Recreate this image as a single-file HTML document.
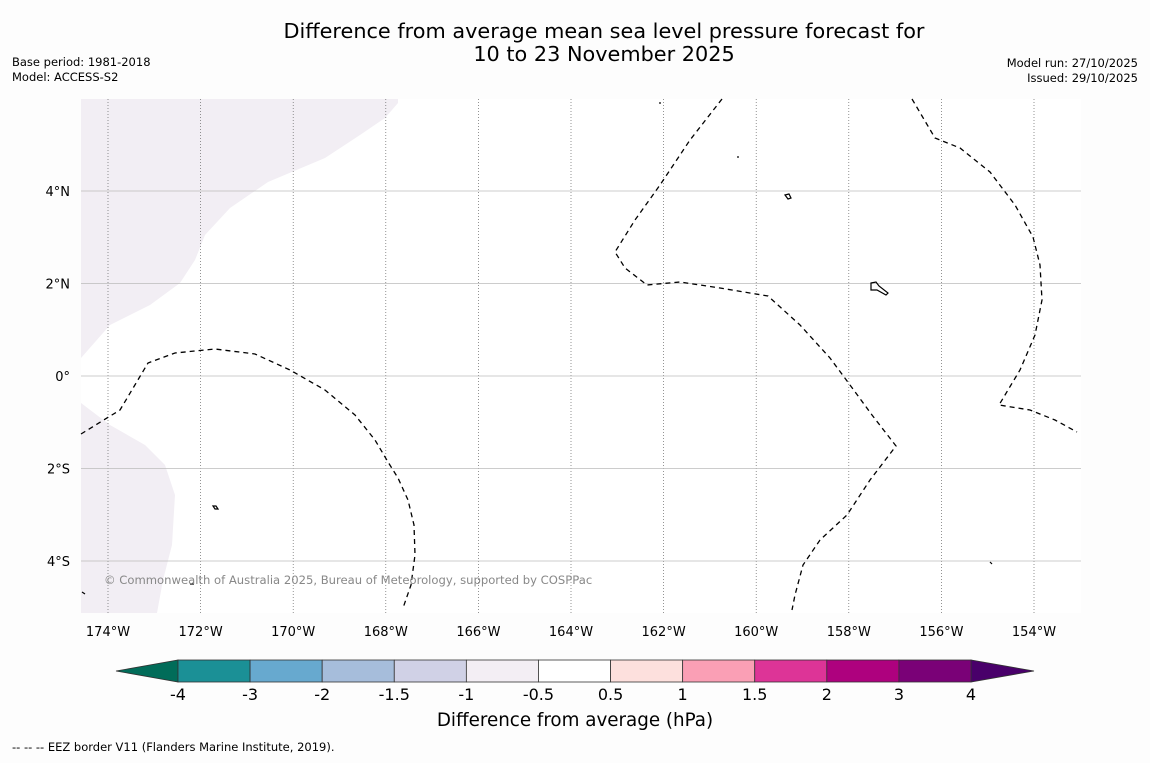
<!DOCTYPE html>
<html><head><meta charset="utf-8"><style>
body{margin:0;background:#fdfdfd;width:1150px;height:758px;overflow:hidden;font-family:"Liberation Sans","DejaVu Sans",sans-serif}
svg text{font-family:"DejaVu Sans","Liberation Sans",sans-serif}
</style></head><body>
<svg width="1150" height="758">
<text x="604" y="38" font-size="20.8" text-anchor="middle">Difference from average mean sea level pressure forecast for</text>
<text x="604" y="61" font-size="20.8" text-anchor="middle">10 to 23 November 2025</text>
<text x="12" y="66" font-size="11.5">Base period: 1981-2018</text>
<text x="12" y="81" font-size="11.5">Model: ACCESS-S2</text>
<text x="1138" y="67" font-size="11.5" text-anchor="end">Model run: 27/10/2025</text>
<text x="1138" y="82" font-size="11.5" text-anchor="end">Issued: 29/10/2025</text>
<g id="map">
<rect x="81" y="99" width="1000" height="514" fill="#fff"/>
<polygon fill="#f2eef4" points="81,99 398,99 398,103 385,118 360,135 325,158 268,182 230,208 205,235 195,260 180,283 150,305 110,325 81,358"/>
<polygon fill="#f2eef4" points="81,403 110,425 145,445 165,465 175,495 172,545 163,580 157,613 81,613"/>
<g id="grid"></g>
<g fill="none" stroke="#000" stroke-width="1.3" stroke-dasharray="5,4">
<polyline points="81,434 120,410 148,363 175,353 215,349 255,354 290,370 325,390 355,415 375,440 388,462 398,478 408,500 414,525 415,555 411,585 403,608"/>
<polyline points="722,99 690,140 660,185 635,220 615,252 625,268 647,285 680,282 720,288 768,296 800,325 830,358 850,385 872,415 896,446 870,480 847,515 820,540 803,565 795,595 792,610"/>
<polyline points="912,99 935,138 960,148 990,172 1015,205 1033,237 1040,265 1042,300 1035,335 1020,370 999,405 1030,410 1055,420 1077,432"/>
</g>
<g fill="none" stroke="#000" stroke-width="1.2">
<path d="M785,195 l4,-1 l2,4 l-3,1z"/>
<path d="M871,283 l5,-1 l3,4 l9,7 l-2,2 l-9,-5 l-6,0z"/>
<path d="M213,506 l3,0 l2,3 l-3,0z"/>
<path d="M659,103 h2"/>
<path d="M737,157 h2"/>
<path d="M190,584 h4"/>
<path d="M990,562 l2,2"/>
<path d="M82,592 l3,2"/>
</g>
<text x="104" y="584" font-size="11.6" fill="#888">© Commonwealth of Australia 2025, Bureau of Meteorology, supported by COSPPac</text>
</g>
<g id="cbar"></g>
<text x="575" y="726" font-size="18.3" text-anchor="middle">Difference from average (hPa)</text>
<text x="12" y="751" font-size="11.5">--  --  -- EEZ border V11 (Flanders Marine Institute, 2019).</text>
</svg>
<script>
const lonTicks=[-174,-172,-170,-168,-166,-164,-162,-160,-158,-156,-154];
const latTicks=[4,2,0,-2,-4];
const cbLevels=["-4","-3","-2","-1.5","-1","-0.5","0.5","1","1.5","2","3","4"];
const cbColors=["#1b9096","#67a9cf","#a6bddb","#d0d1e6","#f3eef4","#ffffff","#fde0dd","#fa9fb5","#dd3497","#ae017e","#7a0177"];
const NS="http://www.w3.org/2000/svg";
function xLon(l){return 108+(l+174)*46.3}
function yLat(l){return 376-l*46.25}
function mk(t,a,p,txt){const e=document.createElementNS(NS,t);for(const k in a)e.setAttribute(k,a[k]);if(txt!==undefined)e.textContent=txt;p.appendChild(e);return e}
const g=document.getElementById('grid');
lonTicks.forEach(l=>{const x=xLon(l);
const ln=mk('line',{x1:x,x2:x,y1:99,y2:613,stroke:'#666','stroke-width':0.7,'stroke-dasharray':'1,2'},g);

const t=mk('text',{x:x,y:636,'font-size':13,'text-anchor':'middle'},g,Math.abs(l)+'°W');
});
latTicks.forEach(l=>{const y=yLat(l);
const ln=mk('line',{x1:81,x2:1081,y1:y,y2:y,stroke:'#bbb','stroke-width':0.8},g);

const t=mk('text',{x:70,y:y+5,'font-size':13,'text-anchor':'end'},g,l===0?'0°':Math.abs(l)+'°'+(l>0?'N':'S'));
});
const c=document.getElementById('cbar');
const x0=178,x1=971,y0=660,h=22,w=(x1-x0)/cbColors.length;
const lt=mk('polygon',{points:`${x0},${y0} ${x0},${y0+h} 116,${y0+h/2}`,fill:'#016c59',stroke:'#333','stroke-width':0.8},c);

const rt=mk('polygon',{points:`${x1},${y0} ${x1},${y0+h} 1034,${y0+h/2}`,fill:'#49006a',stroke:'#333','stroke-width':0.8},c);

cbColors.forEach((col,i)=>{const r=mk('rect',{x:x0+i*w,y:y0,width:w,height:h,fill:col,stroke:'#333','stroke-width':0.8},c);
});
cbLevels.forEach((s,i)=>{const t=mk('text',{x:x0+i*w,y:700,'font-size':16,'text-anchor':'middle'},c,s);
});
</script>
</body></html>
